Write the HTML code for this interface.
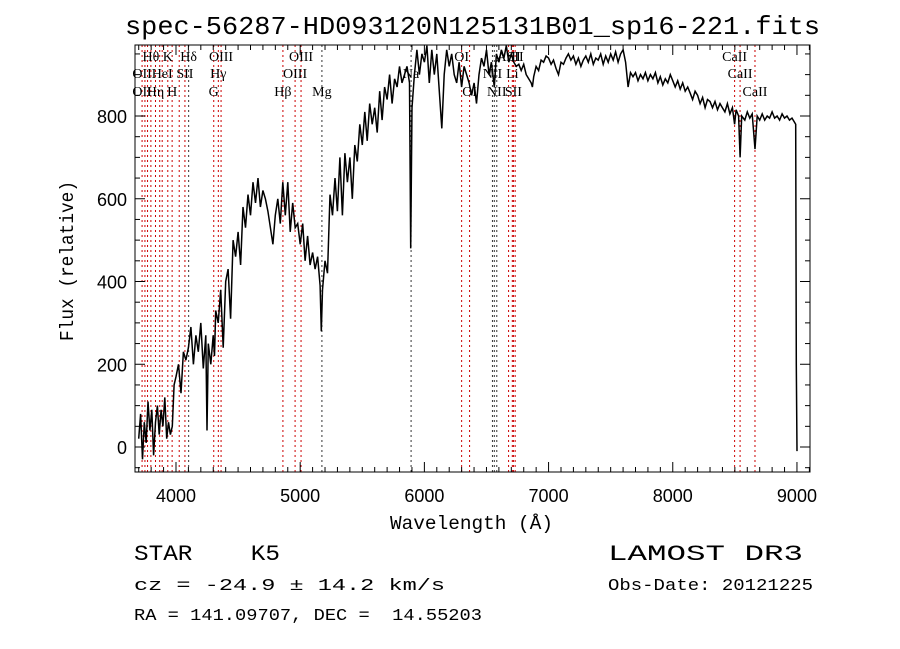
<!DOCTYPE html>
<html><head><meta charset="utf-8"><style>
html,body{margin:0;padding:0;background:#fff;}
svg{display:block;}
.mono{font-family:"Liberation Mono",monospace;white-space:pre;}
.sans{font-family:"Liberation Sans",sans-serif;}
.ser{font-family:"Liberation Serif",serif;font-size:14px;}
</style></head><body>
<svg id="chart" width="900" height="649" viewBox="0 0 900 649" xmlns="http://www.w3.org/2000/svg" xml:space="preserve">
<rect width="900" height="649" fill="#fff"/>
<text class="mono" x="125" y="34" font-size="26" textLength="695" lengthAdjust="spacingAndGlyphs">spec-56287-HD093120N125131B01_sp16-221.fits</text>
<g id="lines"></g>
<g id="labels"></g>
<path id="spec" fill="none" stroke="#000" stroke-width="1.5"/>
<rect x="135" y="45" width="675" height="427" fill="none" stroke="#000" stroke-width="1"/>
<g id="axes"></g>
<text class="mono" x="390" y="529" font-size="19" textLength="163" lengthAdjust="spacingAndGlyphs">Wavelength (Å)</text>
<text class="mono" transform="translate(73,341) rotate(-90)" font-size="19" textLength="160" lengthAdjust="spacingAndGlyphs">Flux (relative)</text>
<text class="mono" x="134" y="560" font-size="22" textLength="146" lengthAdjust="spacingAndGlyphs">STAR    K5</text>
<text class="mono" x="134" y="590" font-size="17" textLength="311" lengthAdjust="spacingAndGlyphs">cz = -24.9 ± 14.2 km/s</text>
<text class="mono" x="134" y="620" font-size="17" textLength="348" lengthAdjust="spacingAndGlyphs">RA = 141.09707, DEC =  14.55203</text>
<text class="mono" x="608" y="560" font-size="22" textLength="195" lengthAdjust="spacingAndGlyphs">LAMOST DR3</text>
<text class="mono" x="608" y="590" font-size="17" textLength="205" lengthAdjust="spacingAndGlyphs">Obs-Date: 20121225</text>
</svg>
<script>
const waves=[3700,3715,3730,3745,3760,3775,3790,3805,3820,3835,3850,3865,3880,3895,3910,3925,3940,3955,3970,3985,4000,4020,4040,4060,4080,4100,4120,4140,4160,4180,4200,4220,4240,4250,4260,4280,4300,4310,4320,4340,4360,4380,4400,4420,4440,4460,4480,4500,4520,4540,4560,4580,4600,4620,4640,4660,4680,4700,4720,4740,4760,4780,4800,4820,4840,4860,4880,4900,4920,4940,4960,4980,5000,5020,5040,5060,5080,5100,5120,5140,5160,5170,5180,5200,5220,5240,5260,5280,5300,5320,5340,5360,5380,5400,5420,5440,5460,5480,5500,5520,5540,5560,5580,5600,5620,5640,5660,5680,5700,5720,5740,5760,5780,5800,5820,5840,5860,5880,5890,5900,5920,5940,5960,5980,6000,6020,6040,6060,6080,6100,6120,6140,6160,6180,6200,6220,6240,6260,6280,6300,6320,6340,6360,6380,6400,6420,6440,6460,6480,6500,6520,6540,6563,6580,6600,6620,6640,6660,6680,6700,6720,6740,6760,6780,6800,6820,6840,6860,6870,6880,6900,6920,6940,6960,6980,7000,7020,7040,7060,7080,7100,7120,7140,7160,7180,7200,7220,7240,7260,7280,7300,7320,7340,7360,7380,7400,7420,7440,7460,7480,7500,7520,7540,7560,7580,7600,7620,7640,7660,7680,7700,7720,7740,7760,7780,7800,7820,7840,7860,7880,7900,7920,7940,7960,7980,8000,8020,8040,8060,8080,8100,8120,8140,8160,8180,8200,8220,8240,8260,8280,8300,8320,8340,8360,8380,8400,8420,8440,8460,8480,8498,8510,8530,8542,8555,8580,8600,8620,8640,8662,8680,8700,8720,8740,8760,8780,8800,8820,8840,8860,8880,8900,8920,8940,8960,8980,8990,8995,9000];
const fluxes=[20,80,-30,60,10,110,40,90,-20,60,100,30,90,50,120,20,60,30,50,150,170,200,130,230,210,240,290,200,270,230,300,190,270,40,250,200,270,220,330,300,380,240,400,430,310,500,460,520,440,580,530,610,560,640,590,650,580,620,600,570,530,490,560,600,540,640,560,640,520,590,530,540,490,540,450,510,440,470,430,460,390,280,380,450,420,610,560,650,570,700,560,710,640,700,600,730,690,780,730,810,740,830,780,820,760,860,790,870,840,900,830,890,870,920,880,900,920,880,480,820,900,960,900,950,930,970,880,960,900,950,860,770,900,960,920,950,900,880,930,870,920,900,880,850,880,830,900,940,920,960,900,930,870,950,930,960,940,970,930,950,930,920,925,910,925,900,890,880,870,895,920,910,935,930,945,940,925,935,915,900,930,925,940,950,935,945,925,940,920,935,945,930,950,925,940,935,950,925,945,930,950,935,955,930,950,960,930,870,905,895,905,885,900,890,905,885,900,890,905,880,895,875,890,880,900,885,870,885,865,880,860,870,855,840,860,850,830,845,820,840,835,820,835,815,830,820,810,830,805,820,780,815,800,700,800,790,810,795,805,720,800,790,805,790,800,795,810,795,800,790,805,795,800,790,795,785,780,200,-10];
const xTicks=[4000,5000,6000,7000,8000,9000];
const yTicks=[0,200,400,600,800];
const lineWaves=[3727,3750,3771,3798,3835,3869,3889,3934,3969,4026,4072,4102,4304,4341,4363,4861,4959,5007,5175,5893,6300,6364,6548,6563,6583,6678,6708,6717,6731,8498,8542,8662];
const lineBlack=[0,0,0,0,0,0,0,0,0,0,0,1,0,0,0,0,0,0,1,1,0,0,1,1,1,0,0,0,0,0,0,0];
const labelText=["Hθ","K","Hδ","OIII","OIII","OI","ArII","SII","CaII","OII","HeI","SII","Hγ","OIII","Na","NII","Li","CaII","OII","Hη","H","G","Hβ","Mg","OI","NII","SII","CaII"];
const labelWave=[3798,3934,4102,4363,5007,6300,6678,6731,8498,3727,3889,4072,4341,4959,5893,6548,6708,8542,3727,3835,3969,4304,4861,5175,6364,6583,6717,8662];
const labelRow=[0,0,0,0,0,0,0,0,0,1,1,1,1,1,1,1,1,1,2,2,2,2,2,2,2,2,2,2];
const X0=135,X1=810,Y0=45,Y1=472;
const xmin=3670,xmax=9105,ymin=-60.4,ymax=971.6;
const xs=w=>X0+(w-xmin)/(xmax-xmin)*(X1-X0);
const ys=f=>Y1-(f-ymin)/(ymax-ymin)*(Y1-Y0);
const NS="http://www.w3.org/2000/svg";
function mk(t,a){const e=document.createElementNS(NS,t);for(const k in a)e.setAttribute(k,a[k]);return e;}
const gl=document.getElementById('lines');
lineWaves.forEach((w,i)=>{const l=mk('line',{x1:xs(w),x2:xs(w),y1:Y0,y2:Y1,stroke:lineBlack[i]?'#333':'#c00','stroke-width':1,'stroke-dasharray':'2,3'});


gl.appendChild(l);});
const glb=document.getElementById('labels');
const rowY=[61,78,96];
labelText.forEach((t,i)=>{const e=mk('text',{x:xs(labelWave[i]),y:rowY[labelRow[i]],'text-anchor':'middle',class:'ser'});e.textContent=t;


glb.appendChild(e);});
let d='';waves.forEach((w,i)=>{let f=Math.max(ymin,Math.min(ymax,fluxes[i]));d+=(i?'L':'M')+xs(w).toFixed(1)+' '+ys(f).toFixed(1);});
document.getElementById('spec').setAttribute('d',d);
const ga=document.getElementById('axes');
for(let w=3700;w<=9100;w+=100){const maj=w%1000===0;const L=maj?10:5;
ga.appendChild(mk('line',{x1:xs(w),x2:xs(w),y1:Y1,y2:Y1-L,stroke:'#000'}));
ga.appendChild(mk('line',{x1:xs(w),x2:xs(w),y1:Y0,y2:Y0+L,stroke:'#000'}));}
xTicks.forEach(w=>{const e=mk('text',{x:xs(w),y:Y1+30,'text-anchor':'middle',class:'sans','font-size':18});e.textContent=w;


ga.appendChild(e);});
for(let f=-50;f<=950;f+=50){const maj=f%200===0;const L=maj?10:5;
ga.appendChild(mk('line',{x1:X0,x2:X0+L,y1:ys(f),y2:ys(f),stroke:'#000'}));
ga.appendChild(mk('line',{x1:X1,x2:X1-L,y1:ys(f),y2:ys(f),stroke:'#000'}));}
yTicks.forEach(f=>{const e=mk('text',{x:X0-8,y:ys(f)+7,'text-anchor':'end',class:'sans','font-size':18});e.textContent=f;


ga.appendChild(e);});
</script>
</body></html>
